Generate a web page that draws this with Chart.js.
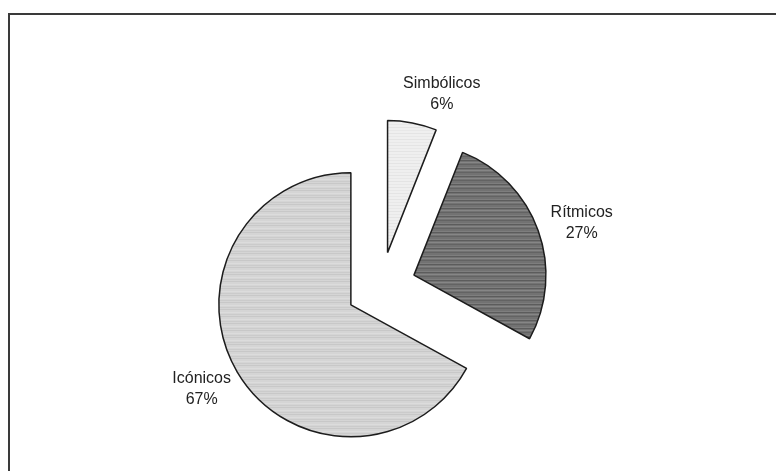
<!DOCTYPE html>
<html>
<head>
<meta charset="utf-8">
<script src="https://cdn.jsdelivr.net/npm/chart.js@4.4.0/dist/chart.umd.min.js"></script>
<style>
  body { margin: 0; background: #fff; }
  canvas { display: block; }
</style>
</head>
<body>
<canvas id="pie" width="776" height="471"></canvas>
<script>
// Categories and shares (percent), clockwise from 12 o'clock
const categories = ['Simbólicos', 'Rítmicos', 'Icónicos'];
const shares = [6, 27, 67];
const percentLabels = ['6%', '27%', '67%'];

// Build a small striped pattern to imitate the scanned fills
function stripes(base, lines) {
  const c = document.createElement('canvas');
  c.width = 16;
  c.height = lines.length;
  const g = c.getContext('2d');
  g.fillStyle = base;
  g.fillRect(0, 0, c.width, c.height);
  lines.forEach((col, i) => {
    if (col) {
      g.fillStyle = col;
      g.fillRect(0, i, c.width, 1);
    }
  });
  return g.createPattern(c, 'repeat');
}

const fills = [
  stripes('#efefef', [null, '#e4e4e4', null, null, '#e8e8e8', null]),
  stripes('#727272', ['#5c5c5c', null, '#868686', null, '#636363', null, null, '#7e7e7e']),
  stripes('#d5d5d5', [null, '#c8c8c8', null, null, '#dcdcdc', null, '#cbcbcb'])
];

// Pull every slice outward along its middle angle
const explode = {
  id: 'explode',
  afterDatasetUpdate(chart, args, opts) {
    args.meta.data.forEach(arc => {
      const mid = (arc.startAngle + arc.endAngle) / 2;
      arc.x += Math.cos(mid) * opts.distance;
      arc.y += Math.sin(mid) * opts.distance;
    });
  }
};

// Outer frame of the chart (only top and left edges are in view)
const frame = {
  id: 'frame',
  beforeDraw(chart) {
    const ctx = chart.ctx;
    ctx.save();
    ctx.strokeStyle = '#3a3a3a';
    ctx.lineWidth = 2;
    ctx.strokeRect(9, 14, chart.width + 20, chart.height + 20);
    ctx.restore();
  }
};

// Category + percent labels outside each slice
const sliceLabels = {
  id: 'sliceLabels',
  afterDatasetsDraw(chart, args, opts) {
    const ctx = chart.ctx;
    const meta = chart.getDatasetMeta(0);
    ctx.save();
    ctx.font = opts.font;
    ctx.fillStyle = opts.color;
    ctx.textAlign = 'center';
    ctx.textBaseline = 'middle';
    meta.data.forEach((arc, i) => {
      const mid = (arc.startAngle + arc.endAngle) / 2;
      const dx = Math.cos(mid), dy = Math.sin(mid);
      const lines = [categories[i], percentLabels[i]];
      const halfW = Math.max(...lines.map(t => ctx.measureText(t).width)) / 2;
      const halfH = lines.length * opts.lineHeight / 2;
      const r = arc.outerRadius + opts.gap;
      const shift = opts.shift[i] || [0, 0];
      const cx = arc.x + dx * r + dx * halfW + shift[0];
      const cy = arc.y + dy * r + dy * halfH + shift[1];
      lines.forEach((t, k) => {
        ctx.fillText(t, cx, cy - halfH + opts.lineHeight * (k + 0.5));
      });
    });
    ctx.restore();
  }
};

new Chart(document.getElementById('pie'), {
  type: 'pie',
  data: {
    labels: categories,
    datasets: [{
      data: shares,
      backgroundColor: fills,
      borderColor: '#1c1c1c',
      borderWidth: 1.5,
      hoverOffset: 0
    }]
  },
  options: {
    responsive: false,
    animation: false,
    radius: 132,
    layout: { padding: { left: 231, right: 245, top: 137, bottom: 34 } },
    plugins: {
      legend: { display: false },
      tooltip: { enabled: false },
      explode: { distance: 35 },
      sliceLabels: {
        font: '16px "Liberation Sans", Arial, sans-serif',
        color: '#222222',
        lineHeight: 21,
        gap: 12,
        shift: [[20, 4], [3, 4], [0, 0]]
      }
    }
  },
  plugins: [frame, explode, sliceLabels]
});
</script>
</body>
</html>
